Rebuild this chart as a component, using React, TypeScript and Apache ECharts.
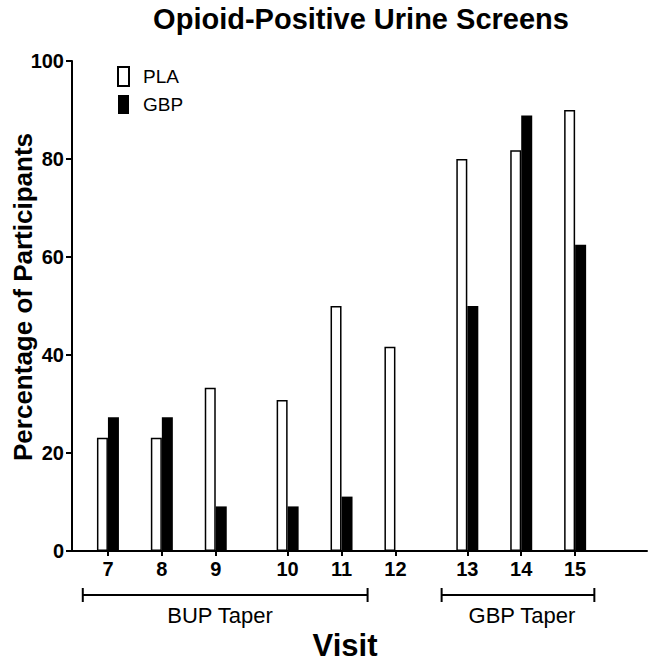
import React, { useEffect, useRef } from "react";
import * as echarts from "echarts";

const visitLabels = ["7", "8", "9", "10", "11", "12", "13", "14", "15"];
const visitPositions = [2, 5, 8, 12, 15, 18, 22, 25, 28];
const plaValues = [23.1, 23.1, 33.3, 30.8, 50, 41.7, 80, 81.8, 90];
const gbpValues = [27.3, 27.3, 9.1, 9.1, 11.1, 0, 50, 88.9, 62.5];
const yTickValues = [0, 20, 40, 60, 80, 100];
const phaseLabels = ["BUP Taper", "GBP Taper"];
const phaseStart = [0.6, 20.57];
const phaseEnd = [16.45, 29.07];
const phaseLabelAt = [8.24, 25.04];

const FONT = "'Liberation Sans', Arial, Helvetica, sans-serif";

export default function App() {
  const ref = useRef<HTMLDivElement>(null);
  useEffect(() => {
    if (!ref.current) return;
    const chart = echarts.init(ref.current, null, { renderer: "svg" });
    const labelFor = (v: number) => {
      const i = visitPositions.indexOf(v);
      return i >= 0 ? visitLabels[i] : "";
    };
    chart.setOption({
      animation: false,
      backgroundColor: "#fff",
      grid: { left: 72, right: 7, top: 61, bottom: 113 },
      legend: {
        data: ["PLA", "GBP"],
        orient: "vertical",
        left: 117,
        top: 66,
        padding: 0,
        itemWidth: 11,
        itemHeight: 19,
        itemGap: 8,
        icon: "rect",
        textStyle: { fontSize: 19, color: "#000", fontFamily: FONT, padding: [0, 0, 0, 9] },
      },
      xAxis: {
        type: "value",
        min: 0,
        max: 32,
        splitLine: { show: false },
        axisLine: { show: true, lineStyle: { color: "#000", width: 2 } },
        axisTick: { show: true, customValues: visitPositions, length: 5, lineStyle: { color: "#000", width: 2 } },
        axisLabel: {
          customValues: visitPositions,
          formatter: (v: number) => labelFor(v),
          fontSize: 20,
          fontWeight: "bold",
          color: "#000",
          fontFamily: FONT,
          margin: 8,
        },
      },
      yAxis: {
        type: "value",
        min: 0,
        max: 100,
        interval: 20,
        splitLine: { show: false },
        axisLine: { show: true, lineStyle: { color: "#000", width: 2 } },
        axisTick: { show: true, length: 6, lineStyle: { color: "#000", width: 2 } },
        axisLabel: {
          fontSize: 20,
          fontWeight: "bold",
          color: "#000",
          fontFamily: FONT,
          margin: 8,
          customValues: yTickValues,
        },
      },
      series: [
        {
          name: "PLA",
          type: "bar",
          barWidth: 11,
          barGap: "0%",
          itemStyle: { color: "#fff", borderColor: "#000", borderWidth: 1.5 },
          data: visitPositions.map((p, i) => [p, plaValues[i]]),
        },
        {
          name: "GBP",
          type: "bar",
          barWidth: 11,
          barGap: "0%",
          itemStyle: { color: "#000", borderColor: "#000", borderWidth: 0 },
          data: visitPositions.map((p, i) => [p, gbpValues[i]]),
        },
      ],
    });

    const graphics: any[] = [
      {
        type: "text",
        x: 361,
        y: 19,
        style: {
          text: "Opioid-Positive Urine Screens",
          font: `bold 29px ${FONT}`,
          fill: "#000",
          textAlign: "center",
          textVerticalAlign: "middle",
        },
      },
      {
        type: "text",
        x: 23,
        y: 297,
        rotation: Math.PI / 2,
        style: {
          text: "Percentage of Participants",
          font: `bold 26px ${FONT}`,
          fill: "#000",
          textAlign: "center",
          textVerticalAlign: "middle",
        },
      },
      {
        type: "text",
        x: 345,
        y: 645,
        style: {
          text: "Visit",
          font: `bold 31px ${FONT}`,
          fill: "#000",
          textAlign: "center",
          textVerticalAlign: "middle",
        },
      },
    ];
    const lineY = 595;
    phaseLabels.forEach((lab, i) => {
      const x1 = chart.convertToPixel({ gridIndex: 0 }, [phaseStart[i], 0])[0];
      const x2 = chart.convertToPixel({ gridIndex: 0 }, [phaseEnd[i], 0])[0];
      const xl = chart.convertToPixel({ gridIndex: 0 }, [phaseLabelAt[i], 0])[0];
      const ls = { stroke: "#000", lineWidth: 2 };
      graphics.push(
        { type: "line", shape: { x1, y1: lineY, x2, y2: lineY }, style: ls },
        { type: "line", shape: { x1, y1: lineY - 7, x2: x1, y2: lineY + 7 }, style: ls },
        { type: "line", shape: { x1: x2, y1: lineY - 7, x2, y2: lineY + 7 }, style: ls },
        {
          type: "text",
          x: xl,
          y: 615,
          style: {
            text: lab,
            font: `22px ${FONT}`,
            fill: "#000",
            textAlign: "center",
            textVerticalAlign: "middle",
          },
        }
      );
    });
    chart.setOption({ graphic: graphics });
    return () => chart.dispose();
  }, []);
  return (
    <div
      ref={ref}
      style={{ position: "fixed", left: 0, top: 0, width: 654, height: 664 }}
    />
  );
}
